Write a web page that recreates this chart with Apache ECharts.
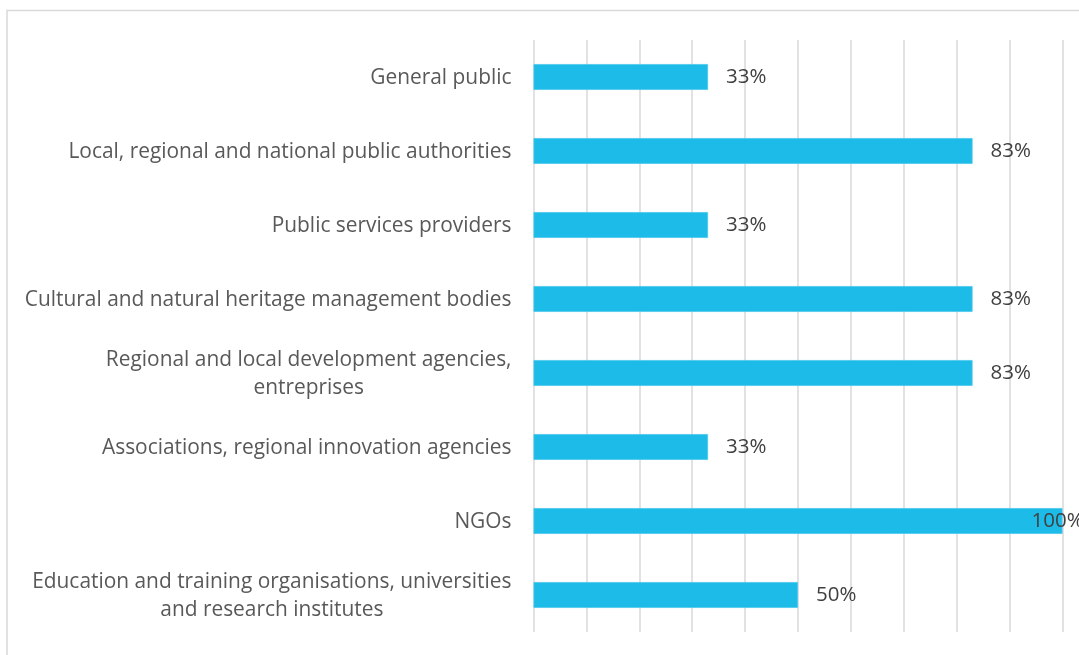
<!DOCTYPE html>
<html>
<head>
<meta charset="utf-8">
<script src="https://cdn.jsdelivr.net/npm/echarts@6/dist/echarts.min.js"></script>
<style>
  html, body { margin: 0; padding: 0; background: #ffffff; }
  #chart { width: 1079px; height: 655px; }
</style>
</head>
<body>
<div id="chart"></div>
<script>
// Stakeholder groups, listed top to bottom
const categories = [
  'General public',
  'Local, regional and national public authorities',
  'Public services providers',
  'Cultural and natural heritage management bodies',
  'Regional and local development agencies,\nentreprises',
  'Associations, regional innovation agencies',
  'NGOs',
  'Education and training organisations, universities\nand research institutes'
];
// Share of respondents per group (%)
const shares = [33, 83, 33, 83, 83, 33, 100, 50];

const FONT = '"Open Sans", Lato, sans-serif';

const chart = echarts.init(document.getElementById('chart'), null, { renderer: 'canvas' });

chart.setOption({
  animation: false,
  backgroundColor: '#ffffff',
  graphic: [{
    type: 'rect',
    shape: { x: 7, y: 10.5, width: 1200, height: 800 },
    style: { fill: 'none', stroke: '#d9d9d9', lineWidth: 1.5 },
    silent: true
  }],
  grid: { left: 533.5, right: 16.5, top: 40, bottom: 23, containLabel: false },
  xAxis: {
    type: 'value',
    min: 0,
    max: 100,
    interval: 10,
    axisLabel: { show: false },
    axisLine: { show: false },
    axisTick: { show: false },
    splitLine: { show: true, lineStyle: { color: '#d9d9d9', width: 1.5 } }
  },
  yAxis: {
    type: 'category',
    inverse: true,
    data: categories,
    axisLine: { show: false },
    axisTick: { show: false },
    axisLabel: {
      margin: 22,
      align: 'right',
      color: '#595959',
      fontFamily: FONT,
      fontSize: 20.9,
      lineHeight: 28,
      // each line centred inside its right-aligned block
      formatter: v => v.split('\n').map(s => '{c|' + s + '}').join('\n'),
      rich: {
        c: { align: 'center', color: '#595959', fontFamily: FONT, fontSize: 20.9, lineHeight: 28, padding: [2, 0, 0, 0] }
      }
    }
  },
  series: [{
    type: 'bar',
    data: shares.map(v => v === 100
      ? { value: v, label: { offset: [-49, 0] } }
      : v),
    barWidth: '35%',
    itemStyle: { color: '#1dbbe8', borderColor: '#4cc8ec', borderWidth: 0.8 },
    label: {
      show: true,
      position: 'right',
      distance: 18,
      formatter: '{c}%',
      color: '#404040',
      fontFamily: FONT,
      fontSize: 20.5,
      padding: [2, 0, 0, 0]
    }
  }]
});
</script>
</body>
</html>
